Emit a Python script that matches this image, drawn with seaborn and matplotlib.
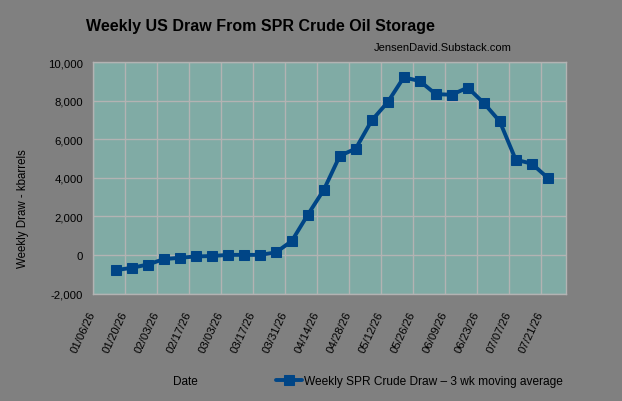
import matplotlib
matplotlib.use("Agg")
import matplotlib.pyplot as plt
import matplotlib.dates as mdates
import seaborn as sns
import pandas as pd

# donnees
semaines = ["2026-01-16", "2026-01-23", "2026-01-30", "2026-02-06", "2026-02-13",
            "2026-02-20", "2026-02-27", "2026-03-06", "2026-03-13", "2026-03-20",
            "2026-03-27", "2026-04-03", "2026-04-10", "2026-04-17", "2026-04-24",
            "2026-05-01", "2026-05-08", "2026-05-15", "2026-05-22", "2026-05-29",
            "2026-06-05", "2026-06-12", "2026-06-19", "2026-06-26", "2026-07-03",
            "2026-07-10", "2026-07-17", "2026-07-24"]
tirage = [-780, -660, -490, -210, -140, -70, -50, 10, 10, 10,
          135, 730, 2090, 3380, 5140, 5520, 6980, 7930, 9210, 9020,
          8340, 8310, 8680, 7880, 6930, 4940, 4740, 4000]
graduations_x = ["2026-01-06", "2026-01-20", "2026-02-03", "2026-02-17", "2026-03-03",
                 "2026-03-17", "2026-03-31", "2026-04-14", "2026-04-28", "2026-05-12",
                 "2026-05-26", "2026-06-09", "2026-06-23", "2026-07-07", "2026-07-21"]
graduations_y = [-2000, 0, 2000, 4000, 6000, 8000, 10000]
serie = "Weekly SPR Crude Draw – 3 wk moving average"

df = pd.DataFrame({"date": pd.to_datetime(semaines), "draw": tirage})

sns.set_style("whitegrid")
plt.rcParams["font.family"] = ["Liberation Sans", "DejaVu Sans"]
plt.rcParams["text.color"] = "black"

gris = "#808080"
fig = plt.figure(figsize=(6.22, 4.02), dpi=100, facecolor=gris)
ax = fig.add_axes([0.1495, 0.267, 0.7605, 0.576])
ax.set_facecolor("#80aba5")

sns.lineplot(data=df, x="date", y="draw", ax=ax, color="#004586", linewidth=2.8,
             marker="s", markersize=7.5, markeredgecolor="#004586", label=serie)

ax.set_xlim(pd.Timestamp("2026-01-06"), pd.Timestamp("2026-08-01"))
ax.set_ylim(-2000, 10000)
ax.set_xticks(pd.to_datetime(graduations_x))
ax.xaxis.set_major_formatter(mdates.DateFormatter("%m/%d/%y"))
ax.set_yticks(graduations_y)
ax.set_yticklabels([f"{v:,}" for v in graduations_y])

ax.grid(True, color="#b3b3b3", linewidth=1)
for s in ax.spines.values():
    s.set_color("#b3b3b3")
    s.set_linewidth(1)

ax.tick_params(axis="both", colors="#b3b3b3", labelcolor="black", length=4,
               width=1, labelsize=8.2, direction="out")
ax.tick_params(axis="y", pad=3)
ax.tick_params(axis="x", pad=9)
for lab in ax.get_xticklabels():
    lab.set_rotation(65)
    lab.set_rotation_mode("anchor")
    lab.set_ha("right")
    lab.set_va("center")

ax.set_xlabel("")
ax.set_ylabel("")

fig.text(0.418, 0.935, "Weekly US Draw From SPR Crude Oil Storage", ha="center",
         va="center", fontsize=11.5, weight="bold")
fig.text(0.822, 0.88, "JensenDavid.Substack.com", ha="right", va="center", fontsize=8)
fig.text(0.037, 0.48, "Weekly Draw - kbarrels", rotation=90, ha="center",
         va="center", fontsize=8.3)
fig.text(0.298, 0.05, "Date", ha="center", va="center", fontsize=8.5)

ax.legend(loc="center left", bbox_to_anchor=(0.443, 0.05), bbox_transform=fig.transFigure,
          frameon=False, fontsize=8.6, handlelength=2.2, handletextpad=0.2,
          borderaxespad=0, borderpad=0)

fig.savefig("out.png", dpi=100, facecolor=gris)
plt.close()
